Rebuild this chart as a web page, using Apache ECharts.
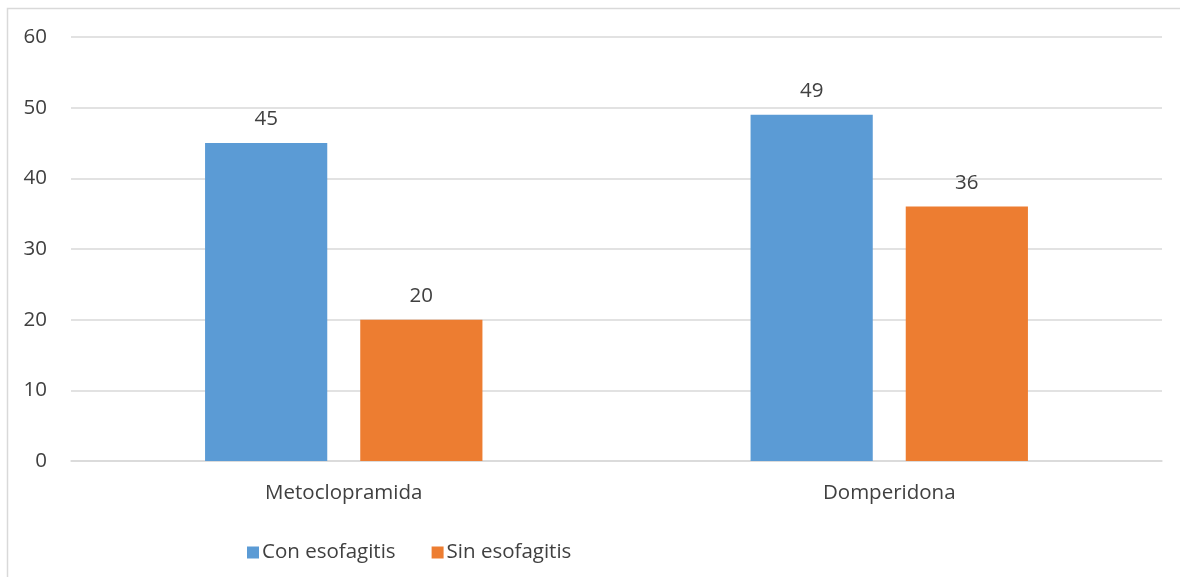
<!DOCTYPE html>
<html>
<head>
<meta charset="utf-8">
<script src="https://cdn.jsdelivr.net/npm/echarts@6/dist/echarts.min.js"></script>
<style>
  html, body { margin: 0; padding: 0; background: #fff; }
  #chart { width: 1180px; height: 577px; }
</style>
</head>
<body>
<div id="chart"></div>
<script>
// Fármacos comparados y pacientes con / sin esofagitis
const categories = ['Metoclopramida', 'Domperidona'];
const conEsofagitis = [45, 49];
const sinEsofagitis = [20, 36];
const seriesNames = ['Con esofagitis', 'Sin esofagitis'];

const FONT = '"Open Sans", "Liberation Sans", sans-serif';
const TEXT = '#404040';
const FS = 20.5;

const chart = echarts.init(document.getElementById('chart'), null, { renderer: 'canvas' });

const labelStyle = {
  show: true,
  position: 'top',
  distance: 13,
  color: TEXT,
  fontSize: FS,
  fontFamily: FONT
};

chart.setOption({
  animation: false,
  backgroundColor: '#fff',
  graphic: [{
    type: 'rect',
    shape: { x: 7.5, y: 8.5, width: 1300, height: 700 },
    style: { fill: 'none', stroke: '#d9d9d9', lineWidth: 1.5 },
    silent: true
  }],
  grid: { left: 71, right: 18, top: 37, bottom: 116, containLabel: false },
  legend: {
    data: seriesNames,
    left: 242,
    top: 537,
    itemWidth: 12,
    itemHeight: 12,
    itemGap: 36,
    icon: 'rect',
    textStyle: { color: TEXT, fontSize: FS, fontFamily: FONT, padding: [0, 0, 0, -2] }
  },
  xAxis: {
    type: 'category',
    data: categories,
    axisLine: { show: true, lineStyle: { color: '#d9d9d9', width: 1.5 } },
    axisTick: { show: false },
    axisLabel: { color: TEXT, fontSize: FS, fontFamily: FONT, margin: 22 }
  },
  yAxis: {
    type: 'value',
    min: 0,
    max: 60,
    interval: 10,
    axisLine: { show: false },
    axisTick: { show: false },
    splitLine: { lineStyle: { color: '#d9d9d9', width: 1.5 } },
    axisLabel: { color: TEXT, fontSize: FS, fontFamily: FONT, margin: 24 }
  },
  series: [
    {
      name: seriesNames[0],
      type: 'bar',
      data: conEsofagitis,
      barWidth: '22.4%',
      barGap: '27%',
      itemStyle: { color: '#5B9BD5' },
      label: labelStyle
    },
    {
      name: seriesNames[1],
      type: 'bar',
      data: sinEsofagitis,
      barWidth: '22.4%',
      itemStyle: { color: '#ED7D31' },
      label: labelStyle
    }
  ]
});
</script>
</body>
</html>
